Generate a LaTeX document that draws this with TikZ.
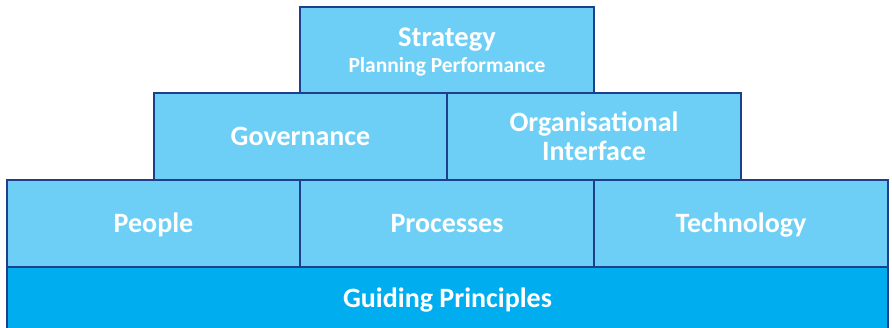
\documentclass[tikz,border=0pt]{standalone}
\usepackage{fontspec}
\setmainfont{Carlito}
\definecolor{edgeblue}{HTML}{1F3E8C}
\definecolor{lightblue}{HTML}{6DCFF6}
\definecolor{baseblue}{HTML}{00AEEF}

\begin{document}
\begin{tikzpicture}[x=1pt, y=-1pt]
    \tikzstyle{block} = [draw=edgeblue, line width=2pt, fill=lightblue, text=white, inner sep=0pt, align=center, minimum width=294pt, minimum height=87pt, font={\fontsize{28}{29}\selectfont\bfseries}]
    \tikzstyle{block_one} = [block, text height=22pt, text depth=4pt]
    \tikzstyle{block_base} = [block, fill=baseblue, minimum width=881pt, minimum height=70pt]

    \useasboundingbox (0,0) rectangle (892,327);

    % ---------------------------------------

    \node[block_base] (nGuide) at (447.5,302) {};
    \node[text=white, font={\fontsize{28}{29}\selectfont\bfseries}, text height=22pt, text depth=4pt] (tGuide) at (447.5,298) {Guiding Principles};

    % ---------------------------------------

    \node[block_one] (nPeople) at (153.5,223.5) {People};
    \node[block_one] (nProc) at (447,223.5) {Processes};
    \node[block_one] (nTech) at (741,223.5) {Technology};

    % ---------------------------------------

    \node[block_one] (nGov) at (300.5,136.5) {Governance};
    \node[block] (nOrg) at (594,136.5) {Organisational\\Interface};

    % ---------------------------------------

    \node[block, minimum height=86pt] (nStrat) at (447,50) {};
    \node[text=white, align=center, inner sep=0pt, font={\fontsize{28.5}{29}\selectfont\bfseries}] (tStrat) at (447,52) {Strategy\\[-3pt]{\fontsize{21.5}{23}\selectfont\bfseries Planning Performance}};

\end{tikzpicture}
\end{document}
